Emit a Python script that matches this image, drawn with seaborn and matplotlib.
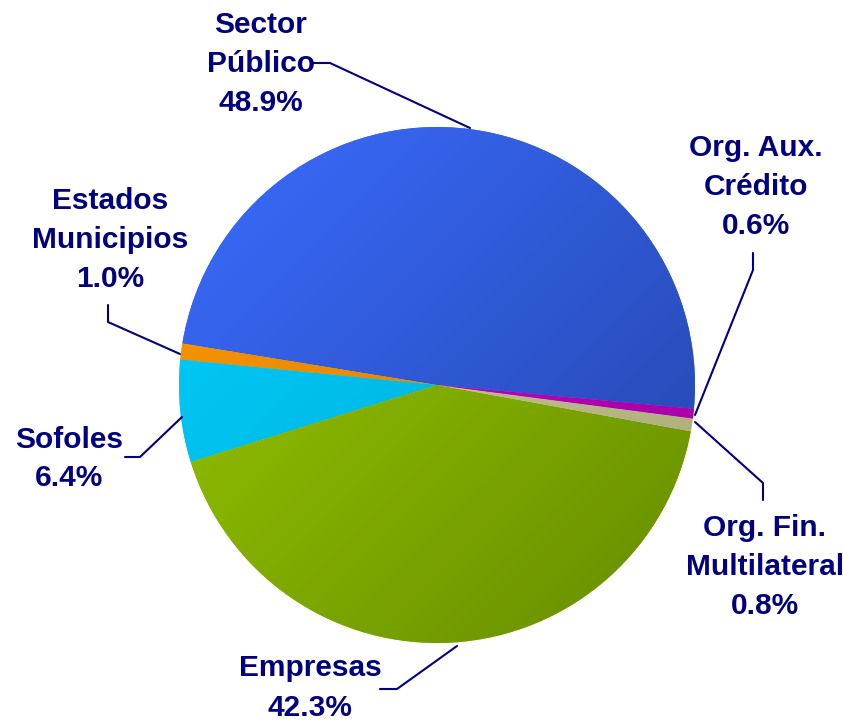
import numpy as np
import matplotlib
matplotlib.use("Agg")
import matplotlib.pyplot as plt
import seaborn as sns
from matplotlib.colors import LinearSegmentedColormap

# Data
labels = ["Sector\nPúblico", "Estados\nMunicipios", "Sofoles", "Empresas",
          "Org. Fin.\nMultilateral", "Org. Aux.\nCrédito"]
values = [48.9, 1.0, 6.4, 42.3, 0.8, 0.6]

# Colours (light -> dark for the shading)
light = ["#3A6CFF", "#FF9A00", "#00D0FF", "#9CCC00", "#D4D4A0", "#D000D0"]
dark = ["#2443A6", "#D07400", "#00A4CC", "#668C00", "#A8A878", "#A000A0"]

# Label layout (pixel coords, y from top): text centre, leader line points
text_pos = [(261, 64), (110, 240), (69, 459), (310, 688), (765, 567), (756, 187)]
leaders = [
    [(313, 63), (330, 63), (470, 128)],
    [(108, 305), (108, 322), (180, 354)],
    [(125, 457), (140, 457), (182, 417)],
    [(380, 689), (397, 689), (457, 646)],
    [(763, 500), (763, 483), (695, 422)],
    [(753, 253), (753, 270), (695, 415)],
]

W, H = 845, 722
cx, cy, r = 437, 385, 258

sns.set_theme(style="white")
plt.rcParams['font.family'] = ['Liberation Sans', 'DejaVu Sans']

fig = plt.figure(figsize=(W / 100, H / 100), dpi=100)
ax = fig.add_axes([0, 0, 1, 1])

wedges, _ = ax.pie(values, startangle=-5.3, counterclock=True,
                   center=(cx, H - cy), radius=r, colors=light,
                   wedgeprops=dict(linewidth=0))
ax.set_xlim(0, W)
ax.set_ylim(0, H)
ax.set_aspect('equal')
ax.axis('off')

# diagonal shading, top-left light to bottom-right dark
n = 300
ii, jj = np.mgrid[0:n, 0:n]
grad = (ii + jj) / (2 * (n - 1))
ext = (cx - r, cx + r, H - cy - r, H - cy + r)
for w, lc, dc in zip(wedges, light, dark):
    cmap = LinearSegmentedColormap.from_list("g", [lc, dc])
    im = ax.imshow(grad, extent=ext, origin='upper', cmap=cmap,
                   aspect='auto', zorder=w.get_zorder() + 0.1,
                   interpolation='bilinear')
    im.set_clip_path(w)

navy = "#000080"
for lab, v, (tx, ty), pts in zip(labels, values, text_pos, leaders):
    ax.text(tx, H - ty, f"{lab}\n{v:.1f}%", ha='center', va='center',
            fontsize=21.5, fontweight='bold', color=navy, linespacing=1.5)
    xs = [p[0] for p in pts]
    ys = [H - p[1] for p in pts]
    ax.plot(xs, ys, color=navy, lw=1.5, zorder=5)

fig.savefig("out.png", dpi=100)
